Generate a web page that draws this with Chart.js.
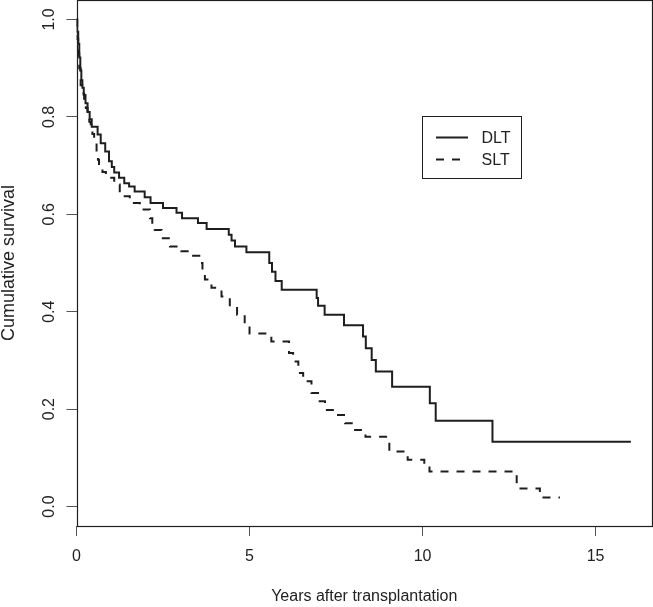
<!DOCTYPE html>
<html>
<head>
<meta charset="utf-8">
<script src="https://cdn.jsdelivr.net/npm/chart.js@4/dist/chart.umd.min.js"></script>
<style>
  html, body { margin: 0; padding: 0; background: #fff; }
  canvas { display: block; }
</style>
</head>
<body>
<canvas id="chart" width="653" height="607"></canvas>
<script>
// Kaplan-Meier steps: at each time the survival drops to the value
const dltTime = [0, 0.02, 0.05, 0.08, 0.11, 0.14, 0.17, 0.21, 0.26, 0.32, 0.38, 0.44, 0.61, 0.70, 0.83, 0.94,
  1.02, 1.09, 1.23, 1.38, 1.52, 1.68, 1.97, 2.14, 2.50, 2.89, 3.05, 3.51, 3.76, 4.40, 4.48, 4.58, 4.91,
  5.57, 5.65, 5.75, 5.93, 6.94, 6.98, 7.17, 7.73, 8.28, 8.36, 8.53, 8.65, 9.12, 10.21, 10.38, 12.02, 16.02];
const dltSurv = [1.0, 0.975, 0.95, 0.922, 0.895, 0.875, 0.86, 0.845, 0.828, 0.81, 0.795, 0.78, 0.764, 0.746, 0.729, 0.709,
  0.697, 0.686, 0.675, 0.664, 0.657, 0.647, 0.635, 0.623, 0.613, 0.603, 0.592, 0.582, 0.570, 0.558, 0.546, 0.534, 0.522,
  0.50, 0.482, 0.463, 0.445, 0.428, 0.412, 0.394, 0.372, 0.349, 0.325, 0.301, 0.277, 0.246, 0.212, 0.176, 0.133, 0.133];

const sltTime = [0, 0.02, 0.05, 0.08, 0.12, 0.17, 0.22, 0.27, 0.32, 0.37, 0.41, 0.46, 0.51, 0.58, 0.62, 0.65, 0.75, 0.85,
  1.09, 1.25, 1.54, 1.83, 2.12, 2.19, 2.26, 2.46, 2.70, 3.03, 3.37, 3.58, 3.64, 3.71, 3.90, 4.19, 4.43, 4.64, 4.86,
  5.00, 5.63, 6.14, 6.26, 6.41, 6.55, 6.65, 6.79, 6.98, 7.18, 7.52, 7.76, 8.05, 8.35, 9.04, 9.57, 10.05, 10.20,
  12.72, 13.39, 13.97];
const sltSurv = [1.0, 0.96, 0.93, 0.90, 0.865, 0.848, 0.832, 0.818, 0.805, 0.79, 0.78, 0.765, 0.75, 0.729, 0.712, 0.698, 0.687, 0.675,
  0.661, 0.637, 0.623, 0.61, 0.592, 0.58, 0.568, 0.551, 0.534, 0.524, 0.515, 0.50, 0.485, 0.466, 0.449, 0.431, 0.411, 0.394, 0.373,
  0.355, 0.339, 0.315, 0.298, 0.274, 0.265, 0.257, 0.233, 0.216, 0.198, 0.188, 0.171, 0.157, 0.143, 0.113, 0.096, 0.085, 0.072,
  0.037, 0.0185, 0.0185];

const seriesNames = ['DLT', 'SLT'];
const xTicks = [0, 5, 10, 15];
const yTicks = [0, 0.2, 0.4, 0.6, 0.8, 1.0];
const yTickLabels = ['0.0', '0.2', '0.4', '0.6', '0.8', '1.0'];

const ink = '#1e1e1e';
const fontFamily = '"Liberation Sans", Arial, Helvetica, sans-serif';
Chart.defaults.font.family = fontFamily;
Chart.defaults.color = '#222';

function toPoints(xs, ys) {
  return xs.map((x, i) => ({ x: x, y: ys[i] }));
}

// box round the plot plus the in-plot legend
const boxAndLegend = {
  id: 'boxAndLegend',
  afterDatasetsDraw(chart) {
    const { ctx, chartArea: a } = chart;
    ctx.save();
    ctx.strokeStyle = ink;
    ctx.lineWidth = 1.2;
    ctx.strokeRect(Math.round(a.left) + 0.5, Math.round(a.top) + 0.5,
      Math.round(a.right - a.left) - 1, Math.round(a.bottom - a.top));

    // legend
    const lx = 422.5, ly = 116.5, lw = 99, lh = 62;
    ctx.lineWidth = 1;
    ctx.strokeRect(lx, ly, lw, lh);
    ctx.font = '16px ' + fontFamily;
    ctx.textBaseline = 'middle';
    ctx.fillStyle = '#222';
    chart.data.datasets.forEach((ds, i) => {
      const yy = ly + 21 + i * 22;
      ctx.beginPath();
      ctx.setLineDash(ds.borderDash || []);
      ctx.lineWidth = ds.borderWidth;
      ctx.strokeStyle = ds.borderColor;
      ctx.moveTo(436, yy);
      ctx.lineTo(468, yy);
      ctx.stroke();
      ctx.setLineDash([]);
      ctx.fillText(ds.label, 481.5, yy + 1);
    });
    ctx.restore();
  }
};

new Chart(document.getElementById('chart'), {
  type: 'line',
  data: {
    datasets: [
      {
        label: seriesNames[0],
        data: toPoints(dltTime, dltSurv),
        borderColor: ink,
        borderWidth: 2,
        stepped: 'before',
        pointRadius: 0,
        fill: false
      },
      {
        label: seriesNames[1],
        data: toPoints(sltTime, sltSurv),
        borderColor: ink,
        borderWidth: 2,
        borderDash: [8, 8],
        stepped: 'before',
        pointRadius: 0,
        fill: false
      }
    ]
  },
  options: {
    responsive: false,
    animation: false,
    devicePixelRatio: 1,
    layout: { padding: { top: 0, right: 1, left: 0, bottom: 0 } },
    plugins: {
      legend: { display: false },
      tooltip: { enabled: false }
    },
    scales: {
      x: {
        type: 'linear',
        min: 0,
        max: 16.63,
        afterBuildTicks: s => { s.ticks = xTicks.map(v => ({ value: v })); },
        afterFit: s => { s.height = 81; s.paddingLeft = 0; s.paddingRight = 0; },
        ticks: { font: { size: 16 }, padding: 11, color: '#222' },
        grid: { drawOnChartArea: false, tickLength: 10, tickColor: '#555', tickWidth: 1 },
        border: { display: false },
        title: {
          display: true,
          text: 'Years after transplantation',
          font: { size: 16 },
          color: '#222',
          padding: { top: 0, bottom: 1 }
        }
      },
      y: {
        type: 'linear',
        min: -0.04,
        max: 1.04,
        afterBuildTicks: s => { s.ticks = yTicks.map(v => ({ value: v })); },
        afterFit: s => { s.width = 76.5; s.paddingTop = 0; s.paddingBottom = 0; },
        ticks: {
          font: { size: 16 },
          minRotation: 90,
          maxRotation: 90,
          crossAlign: 'center',
          padding: 5.5,
          color: '#222',
          callback: (v) => yTickLabels[yTicks.indexOf(v)] ?? ''
        },
        grid: { drawOnChartArea: false, tickLength: 10, tickColor: '#555', tickWidth: 1 },
        border: { display: false },
        title: {
          display: true,
          text: 'Cumulative survival',
          font: { size: 18, lineHeight: 1 },
          color: '#222',
          padding: { top: 0.5, bottom: 0 }
        }
      }
    }
  },
  plugins: [boxAndLegend]
});
</script>
</body>
</html>
